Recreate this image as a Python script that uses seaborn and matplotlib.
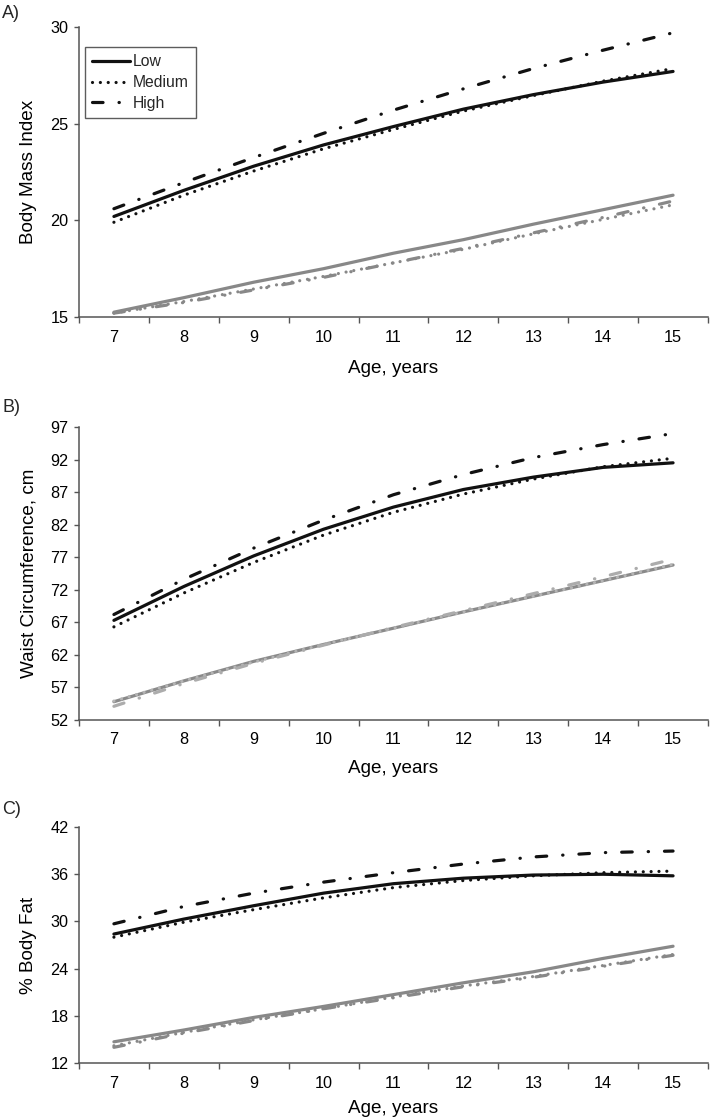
import matplotlib
matplotlib.use('Agg')
import matplotlib.pyplot as plt
import seaborn as sns
import pandas as pd

# ages on the x axis
age = [7, 8, 9, 10, 11, 12, 13, 14, 15]
age_ticks = ['7', '8', '9', '10', '11', '12', '13', '14', '15']

# A) Body Mass Index, black = upper group, gray = lower group
bmi_black_low = [20.2, 21.55, 22.8, 23.9, 24.85, 25.75, 26.5, 27.15, 27.7]
bmi_black_med = [19.9, 21.3, 22.55, 23.7, 24.7, 25.65, 26.45, 27.2, 27.85]
bmi_black_high = [20.6, 21.95, 23.25, 24.5, 25.7, 26.8, 27.85, 28.8, 29.7]
bmi_gray_low = [15.25, 16.0, 16.8, 17.5, 18.3, 19.0, 19.8, 20.55, 21.3]
bmi_gray_med = [15.2, 15.8, 16.45, 17.1, 17.8, 18.5, 19.3, 20.05, 20.8]
bmi_gray_high = [15.2, 15.75, 16.4, 17.05, 17.8, 18.55, 19.35, 20.15, 21.0]

# B) Waist circumference
wc_black_low = [67.3, 72.5, 77.2, 81.3, 84.7, 87.4, 89.3, 90.8, 91.5]
wc_black_med = [66.3, 71.5, 76.2, 80.4, 83.9, 86.7, 89.0, 90.9, 92.2]
wc_black_high = [68.2, 73.6, 78.4, 82.7, 86.6, 89.7, 92.3, 94.3, 96.0]
wc_gray_low = [54.8, 58.0, 61.0, 63.6, 66.1, 68.6, 71.0, 73.4, 75.8]
wc_gray_med = [54.9, 58.0, 60.9, 63.6, 66.1, 68.6, 71.0, 73.4, 75.9]
wc_gray_high = [54.1, 57.6, 60.7, 63.5, 66.2, 68.8, 71.4, 74.0, 76.7]

# C) % body fat
bf_black_low = [28.4, 30.3, 32.0, 33.6, 34.8, 35.5, 35.9, 36.0, 35.8]
bf_black_med = [28.0, 29.9, 31.5, 33.0, 34.3, 35.2, 35.8, 36.2, 36.4]
bf_black_high = [29.7, 31.9, 33.6, 35.0, 36.2, 37.3, 38.2, 38.75, 38.95]
bf_gray_low = [14.7, 16.2, 17.8, 19.2, 20.7, 22.2, 23.6, 25.3, 26.85]
bf_gray_med = [14.2, 15.9, 17.5, 18.9, 20.4, 21.8, 23.0, 24.4, 25.8]
bf_gray_high = [14.0, 15.8, 17.4, 18.9, 20.3, 21.7, 22.9, 24.3, 25.7]

levels = ['Low', 'Medium', 'High']

sns.set_theme(style='white')
plt.rcParams['font.family'] = ['Liberation Sans', 'DejaVu Sans']

styles = {
    'Low': '-',
    'Medium': (0, (0.01, 2.45)),
    'High': (0, (3.3, 5.0, 0.1, 5.0)),
}

panels = [
    {
        'tag': 'A)', 'ylabel': 'Body Mass Index',
        'black': [bmi_black_low, bmi_black_med, bmi_black_high],
        'gray': [bmi_gray_low, bmi_gray_med, bmi_gray_high],
        'gray_cols': ['#888888', '#888888', '#888888'],
        'ylim': (15, 30), 'yticks': [15, 20, 25, 30],
        'rect': [0.1106, 0.7167, 0.881, 0.2592], 'tag_y': 1 - 13 / 1119,
        'xlab_y': -0.148,
    },
    {
        'tag': 'B)', 'ylabel': 'Waist Circumference, cm',
        'black': [wc_black_low, wc_black_med, wc_black_high],
        'gray': [wc_gray_low, wc_gray_med, wc_gray_high],
        'gray_cols': ['#8a8a8a', '#b4b4b4', '#acacac'],
        'ylim': (52, 97), 'yticks': [52, 57, 62, 67, 72, 77, 82, 87, 92, 97],
        'rect': [0.1106, 0.3566, 0.881, 0.2618], 'tag_y': 1 - 408 / 1119,
        'xlab_y': -0.1365,
    },
    {
        'tag': 'C)', 'ylabel': '% Body Fat',
        'black': [bf_black_low, bf_black_med, bf_black_high],
        'gray': [bf_gray_low, bf_gray_med, bf_gray_high],
        'gray_cols': ['#888888', '#888888', '#888888'],
        'ylim': (12, 42), 'yticks': [12, 18, 24, 30, 36, 42],
        'rect': [0.1106, 0.05, 0.881, 0.2109], 'tag_y': 1 - 810 / 1119,
        'xlab_y': -0.157,
    },
]

fig = plt.figure(figsize=(7.14, 11.19), dpi=100)

for p in panels:
    ax = fig.add_axes(p['rect'])
    for lev, vals, col in zip(levels, p['gray'], p['gray_cols']):
        df = pd.DataFrame({'age': age, 'value': vals})
        sns.lineplot(data=df, x='age', y='value', ax=ax, color=col, lw=2.3,
                     linestyle=styles[lev], dash_capstyle='round',
                     solid_capstyle='round', errorbar=None)
    for lev, vals in zip(levels, p['black']):
        df = pd.DataFrame({'age': age, 'value': vals})
        sns.lineplot(data=df, x='age', y='value', ax=ax, color='#111111', lw=2.3,
                     linestyle=styles[lev], dash_capstyle='round',
                     solid_capstyle='round', errorbar=None, label=lev)

    ax.set_xlim(6.5, 15.5)
    ax.set_ylim(*p['ylim'])
    ax.set_xticks(age)
    ax.set_xticklabels(age_ticks)
    ax.set_xticks([a + 0.5 for a in [6] + age], minor=True)
    ax.set_yticks(p['yticks'])
    ax.tick_params(axis='x', which='major', length=0, pad=9.0, labelsize=11.7, colors='black')
    ax.tick_params(axis='x', which='minor', length=4, width=1, color='#555555', direction='out', bottom=True)
    ax.tick_params(axis='y', length=3.5, width=1, color='#555555', direction='out', left=True,
                   pad=4.0, labelsize=11.7, labelcolor='black')
    for side in ['top', 'right']:
        ax.spines[side].set_visible(False)
    for side in ['left', 'bottom']:
        ax.spines[side].set_color('#555555')
        ax.spines[side].set_linewidth(1.1)

    ax.set_xlabel('Age, years', fontsize=13.6, color='black')
    ax.xaxis.set_label_coords(0.5, p['xlab_y'])
    ax.set_ylabel(p['ylabel'], fontsize=13.6, color='black')
    ax.yaxis.set_label_coords(-0.066, 0.5)

    fig.text(0.003, p['tag_y'], p['tag'], fontsize=13, va='center', ha='left')

    if p['tag'] == 'A)':
        leg = ax.legend(loc='upper left', bbox_to_anchor=(0.0095, 0.931),
                        borderaxespad=0, frameon=True, fancybox=False,
                        handlelength=2.4, handletextpad=0.2, labelspacing=0.38,
                        borderpad=0.45, fontsize=11.3)
        leg.get_frame().set_edgecolor('#333333')
        leg.get_frame().set_linewidth(1.0)
    else:
        lg = ax.get_legend()
        if lg is not None:
            lg.remove()

fig.savefig('out.png', dpi=100)
